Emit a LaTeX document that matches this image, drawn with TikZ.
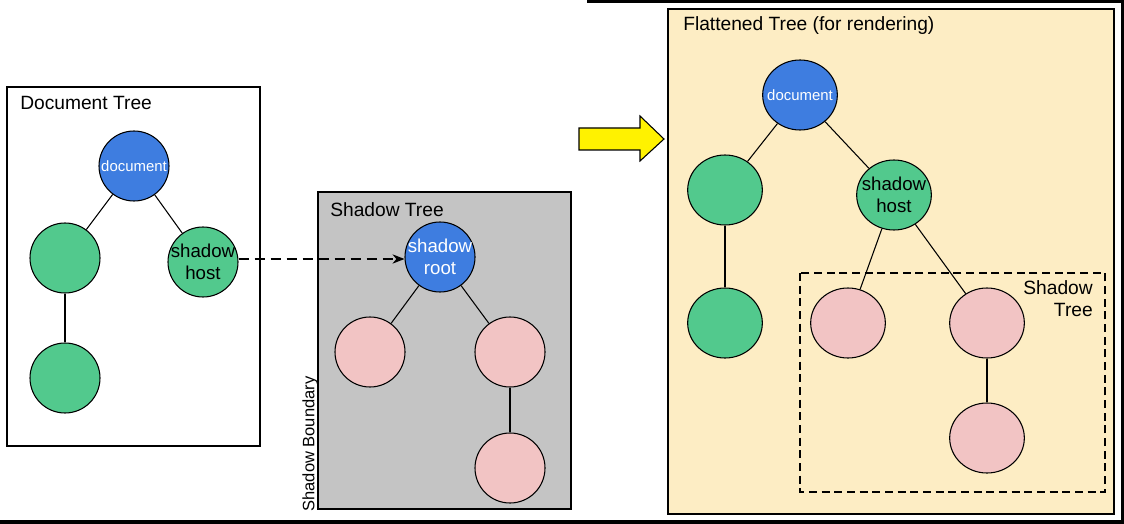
\documentclass[tikz,border=0pt]{standalone}
\usepackage{fontspec}
\setmainfont{Liberation Sans}
\usetikzlibrary{shapes.geometric,arrows.meta}
\definecolor{nblue}{RGB}{62,125,224}
\definecolor{ngreen}{RGB}{82,201,141}
\definecolor{npink}{RGB}{242,196,196}
\definecolor{sgray}{RGB}{196,196,196}
\definecolor{ftan}{RGB}{253,237,196}
\newcommand\inlbl[1]{\makebox[0pt]{\smash{\raisebox{-0.38em}{\begin{tabular}{@{}c@{}}#1\end{tabular}}}}}
\tikzset{
  treenode/.style={ellipse, draw=black, line width=0.8pt, inner sep=0pt, align=center, text=black},
  small/.style={treenode, minimum width=52.5pt, minimum height=52.5pt},
  big/.style={treenode, minimum width=56pt, minimum height=52.5pt},
  bluen/.style={fill=nblue, text=white, font=\fontsize{11.2}{13}\selectfont},
  greenn/.style={fill=ngreen, font=\fontsize{14}{16.5}\selectfont},
  pinkn/.style={fill=npink},
  bluelbl/.style={fill=nblue, text=white, font=\fontsize{14}{16.5}\selectfont},
  edge/.style={draw=black, line width=0.8pt},
  panel/.style={draw=black, line width=0.8pt},
  title/.style={anchor=base west, inner sep=0pt, font=\fontsize{14.4}{17}\selectfont},
}
\begin{document}
\begin{tikzpicture}[x=0.75pt,y=-0.75pt]
\useasboundingbox (0,0) rectangle (1124,524);
% frame lines
\fill[black] (587,0) rectangle (1124,3);
\fill[black] (1121,0) rectangle (1124,524);
\fill[black] (0,520) rectangle (1124,524);

% Document tree panel
\draw[panel, fill=white] (7,87) rectangle (260,446);
\node[title] (dtt) at (20,110) {Document Tree};
\node[small, bluen] (d1) at (134,166) {\inlbl{document}};
\node[small, greenn] (d2) at (65,258) {};
\node[small, greenn] (d3) at (203,262) {\inlbl{shadow\\host}};
\node[small, greenn] (d4) at (65,378) {};
\draw[edge] (d1) -- (d2);
\draw[edge] (d1) -- (d3);
\draw[edge] (d2) -- (d4);

% Shadow tree panel
\draw[panel, fill=sgray] (318,192) rectangle (571,509);
\node[title] (stt) at (330,216) {Shadow Tree};
\node[anchor=center, rotate=90, inner sep=0pt, font=\fontsize{12.4}{14}\selectfont] (sbl) at (310,444) {Shadow Boundary};
\node[small, bluelbl] (s1) at (440,257) {\inlbl{shadow\\root}};
\node[small, pinkn] (s2) at (370,352) {};
\node[small, pinkn] (s3) at (510,352) {};
\node[small, pinkn] (s4) at (510,468) {};
\draw[edge] (s1) -- (s2);
\draw[edge] (s1) -- (s3);
\draw[edge] (s3) -- (s4);

% dashed arrow
\draw[edge, dash pattern=on 7.5pt off 4.5pt, -{Stealth[length=9pt,width=7pt]}] (d3.east |- 0,259) coordinate (da) -- (s1.west |- 0,259) coordinate (db);

% yellow arrow
\draw[line width=0.8pt, fill=yellow] (579,128) -- (640,128) -- (640,116) -- (664,139) -- (640,161) -- (640,150) -- (579,150) -- cycle;

% Flattened tree panel
\draw[draw=black, line width=1.2pt, fill=ftan] (668,9) rectangle (1114,514);
\node[title] (ftt) at (683,31) {Flattened Tree (for rendering)};
\draw[line width=0.8pt, dash pattern=on 6pt off 3.5pt] (800,273) rectangle (1105,492);
\node[anchor=north east, align=right, inner sep=0pt, font=\fontsize{14.4}{16.5}\selectfont] (fst) at (1093,280) {Shadow\\Tree};
\node[big, bluen] (f1) at (800,95) {\inlbl{document}};
\node[big, greenn] (f2) at (725,190) {};
\node[big, greenn] (f3) at (894,195) {\inlbl{shadow\\host}};
\node[big, greenn] (f4) at (725,323) {};
\node[big, pinkn] (f5) at (848,323) {};
\node[big, pinkn] (f6) at (987,323) {};
\node[big, pinkn] (f7) at (987,438) {};
\draw[edge] (f1) -- (f2);
\draw[edge] (f1) -- (f3);
\draw[edge] (f2) -- (f4);
\draw[edge] (f3) -- (f5);
\draw[edge] (f3) -- (f6);
\draw[edge] (f6) -- (f7);
\end{tikzpicture}
\end{document}
